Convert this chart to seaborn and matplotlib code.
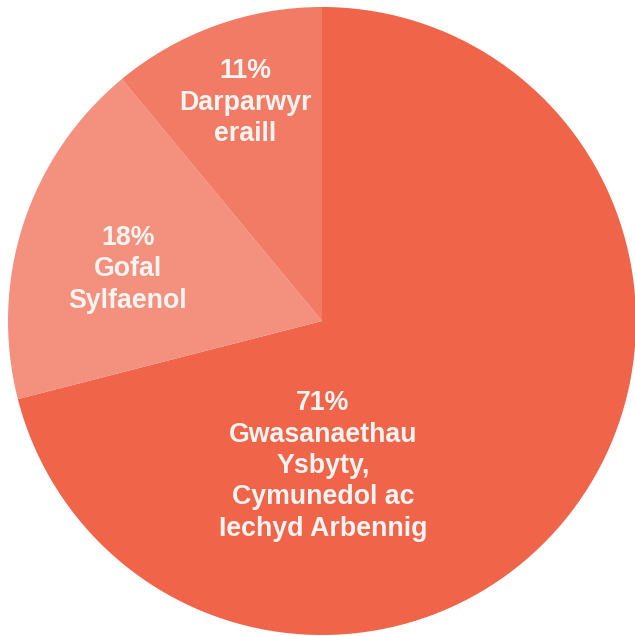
import matplotlib
matplotlib.use('Agg')
import matplotlib.pyplot as plt
import seaborn as sns
import pandas as pd


### DATA ###

categories = [
    'Gwasanaethau\nYsbyty,\nCymunedol ac\nIechyd Arbennig',
    'Gofal\nSylfaenol',
    'Darparwyr\neraill'
]
shares = [71, 18, 11]
colours = ['#F0644A', '#F4917E', '#F27B66']

# label centres in axis data units (pie radius = 1)
label_x = [0.003, -0.618, -0.245]
label_y = [-0.462, 0.165, 0.695]

df = pd.DataFrame({'category': categories, 'share': shares})


### PIE ###

sns.set_theme(style='white')
plt.rcParams['font.family'] = ['Liberation Sans', 'DejaVu Sans']

fig = plt.figure(figsize=(6.35, 6.36), dpi=100)
ax = fig.add_axes([8 / 635, 1 / 636, 628 / 635, 628 / 636])

ax.pie(
    df['share'],
    colors=colours,
    startangle=90,
    counterclock=False,
    radius=1,
    wedgeprops={'linewidth': 0}
)

for cat, pct, x, y in zip(df['category'], df['share'], label_x, label_y):
    ax.text(
        x, y,
        f"{pct}%\n{cat}",
        ha='center',
        va='center',
        color='#F7F4F2',
        fontsize=19.3,
        fontweight='bold',
        linespacing=1.27
    )

ax.set_xlim(-1, 1)
ax.set_ylim(-1, 1)
ax.set_aspect('equal')
ax.axis('off')

fig.savefig('out.png', dpi=100)
